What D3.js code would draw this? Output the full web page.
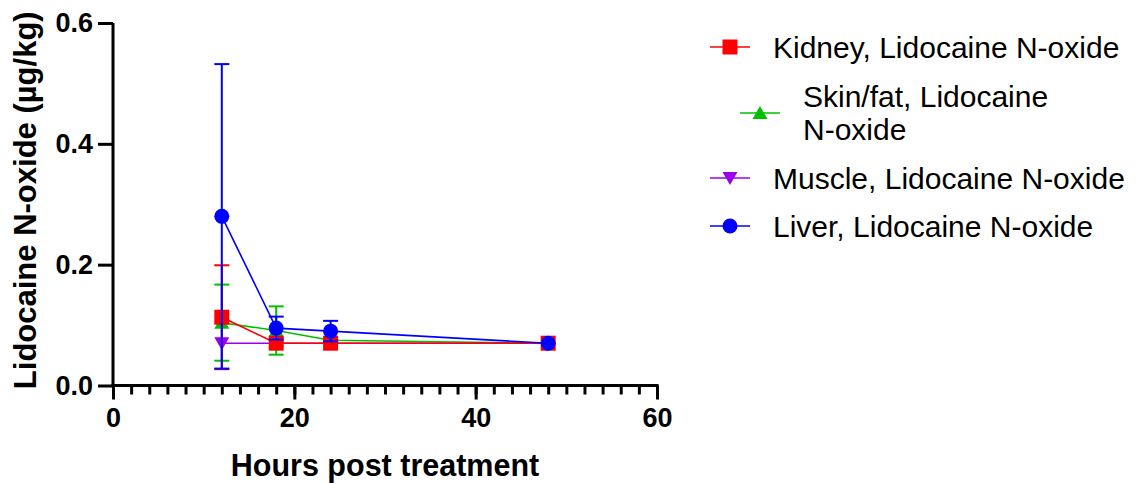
<!DOCTYPE html>
<html>
<head>
<meta charset="utf-8">
<script src="https://cdn.jsdelivr.net/npm/d3@7"></script>
<style>
  body { margin: 0; background: #fff; }
  text { font-family: "Liberation Sans", Arial, sans-serif; }
</style>
</head>
<body>
<div id="graph"></div>
<script>
// Data (mean and SD per time point)
var hours      = [12, 18, 24, 48];
var kidneyMean = [0.113, 0.070, 0.070, 0.070];
var kidneySD   = [0.086, 0, 0, 0];
var skinMean   = [0.104, 0.091, 0.075, 0.070];
var skinSD     = [0.063, 0.040, 0, 0];
var muscleMean = [0.070, 0.070, 0.070, 0.070];
var muscleSD   = [0, 0, 0, 0];
var liverMean  = [0.280, 0.095, 0.090, 0.070];
var liverSD    = [0.252, 0.019, 0.017, 0];

var seriesNames = ['Kidney, Lidocaine N-oxide', 'Skin/fat, Lidocaine N-oxide',
                   'Muscle, Lidocaine N-oxide', 'Liver, Lidocaine N-oxide'];
var xTicks = [0, 20, 40, 60];
var yTicks = [0.0, 0.2, 0.4, 0.6];

var colours = ['#ff0000', '#00c000', '#9c00ea', '#0000ff'];
var symbols = ['square', 'triangleUp', 'triangleDown', 'circle'];

var series = [
    { name: seriesNames[0], mean: kidneyMean, sd: kidneySD, colour: colours[0], symbol: symbols[0] },
    { name: seriesNames[1], mean: skinMean,   sd: skinSD,   colour: colours[1], symbol: symbols[1] },
    { name: seriesNames[2], mean: muscleMean, sd: muscleSD, colour: colours[2], symbol: symbols[2] },
    { name: seriesNames[3], mean: liverMean,  sd: liverSD,  colour: colours[3], symbol: symbols[3] }
];

var width = 1137, height = 483;
var svg = d3.select('#graph').append('svg')
            .attr('width', width)
            .attr('height', height);

var xScale = d3.scaleLinear().domain([0, 60]).range([113, 657]);
var yScale = d3.scaleLinear().domain([0, 0.6]).range([385.5, 23]);

// symbol path generator centred on 0,0
function markerPath (type)
{
    var s = 15;
    if (type == 'square')
        return 'M' + (-s/2) + ',' + (-s/2) + 'h' + s + 'v' + s + 'h' + (-s) + 'Z';
    if (type == 'triangleUp')
        return 'M0,-7 L7.5,6 L-7.5,6 Z';
    if (type == 'triangleDown')
        return 'M0,7 L7.5,-6 L-7.5,-6 Z';
    return d3.symbol().type(d3.symbolCircle).size(Math.PI * 7.5 * 7.5)();
}

// Axes
var xAxisMinor = d3.axisBottom(xScale)
                   .tickValues(d3.range(0, 61, 2))
                   .tickSize(9)
                   .tickFormat('');
var xAxis = d3.axisBottom(xScale)
              .tickValues(xTicks)
              .tickSize(14)
              .tickPadding(8)
              .tickFormat(d3.format('d'));
var yAxis = d3.axisLeft(yScale)
              .tickValues(yTicks)
              .tickSize(15)
              .tickPadding(5)
              .tickFormat(d3.format('.1f'));

var gxm = svg.append('g')
             .attr('transform', 'translate(0,' + yScale(0) + ')')
             .call(xAxisMinor);
gxm.select('.domain').remove();
gxm.selectAll('line').attr('stroke', '#000').attr('stroke-width', 3);

var gx = svg.append('g')
            .attr('transform', 'translate(0,' + yScale(0) + ')')
            .call(xAxis);
gx.select('.domain').attr('d', 'M' + (xScale(0) - 1.5) + ',0H' + (xScale(60) + 1.5))
  .attr('stroke', '#000').attr('stroke-width', 3);
gx.selectAll('line').attr('stroke', '#000').attr('stroke-width', 3);
gx.selectAll('text')
  .attr('font-size', 27).attr('font-weight', 'bold').attr('fill', '#000');

var gy = svg.append('g')
            .attr('transform', 'translate(' + xScale(0) + ',0)')
            .call(yAxis);
gy.select('.domain').attr('d', 'M0,' + yScale(0.6) + 'V' + (yScale(0) + 1.5))
  .attr('stroke', '#000').attr('stroke-width', 3);
gy.selectAll('line').attr('stroke', '#000').attr('stroke-width', 3);
gy.selectAll('text')
  .attr('font-size', 27).attr('font-weight', 'bold').attr('fill', '#000');

// Axis titles
svg.append('text')
   .attr('x', (xScale(0) + xScale(60)) / 2)
   .attr('y', 476)
   .attr('text-anchor', 'middle')
   .attr('font-size', 30.5).attr('font-weight', 'bold')
   .text('Hours post treatment');

svg.append('text')
   .attr('transform', 'translate(36,' + ((yScale(0) + yScale(0.6)) / 2 - 4) + ') rotate(-90)')
   .attr('text-anchor', 'middle')
   .attr('font-size', 31).attr('font-weight', 'bold')
   .text('Lidocaine N-oxide (\u00b5g/kg)');

// Draw order so that kidney sits over skin/fat and liver is on top
var drawOrder = [1, 2, 0, 3];

var line = d3.line()
             .x(function (d) { return xScale(d.x); })
             .y(function (d) { return yScale(d.y); });

drawOrder.forEach(function (k)
{
    var s = series[k];
    var pts = hours.map(function (h, i) { return { x: h, y: s.mean[i], sd: s.sd[i] }; });
    var g = svg.append('g');

    g.append('path')
     .datum(pts)
     .attr('d', line)
     .attr('fill', 'none')
     .attr('stroke', s.colour)
     .attr('stroke-width', 1.6);

    // error bars
    pts.filter(function (d) { return d.sd > 0; }).forEach(function (d)
    {
        var x = xScale(d.x);
        var y1 = yScale(d.y + d.sd), y0 = yScale(d.y - d.sd);
        g.append('line').attr('x1', x).attr('x2', x).attr('y1', y1).attr('y2', y0)
         .attr('stroke', s.colour).attr('stroke-width', 2);
        [y1, y0].forEach(function (yy)
        {
            g.append('line').attr('x1', x - 7.5).attr('x2', x + 7.5).attr('y1', yy).attr('y2', yy)
             .attr('stroke', s.colour).attr('stroke-width', 2);
        });
    });

    g.selectAll('path.marker')
     .data(pts)
     .enter().append('path')
     .attr('class', 'marker')
     .attr('d', markerPath(s.symbol))
     .attr('transform', function (d) { return 'translate(' + xScale(d.x) + ',' + yScale(d.y) + ')'; })
     .attr('fill', s.colour);
});

// Legend
var legendRows = [
    { lines: [seriesNames[0]], cy: 47, sx: 730, tx: 773 },
    { lines: ['Skin/fat, Lidocaine', 'N-oxide'], cy: 113, sx: 760, tx: 803 },
    { lines: [seriesNames[2]], cy: 178, sx: 730, tx: 773 },
    { lines: [seriesNames[3]], cy: 226, sx: 730, tx: 773 }
];

legendRows.forEach(function (r, i)
{
    var s = series[i];
    var lg = svg.append('g');
    lg.append('line')
      .attr('x1', r.sx - 20).attr('x2', r.sx + 20)
      .attr('y1', r.cy).attr('y2', r.cy)
      .attr('stroke', s.colour).attr('stroke-width', 1.6);
    lg.append('path')
      .attr('d', markerPath(s.symbol))
      .attr('transform', 'translate(' + r.sx + ',' + r.cy + ')')
      .attr('fill', s.colour);
    var lh = 33;
    var top = r.cy - (r.lines.length - 1) * lh / 2;
    r.lines.forEach(function (t, j)
    {
        lg.append('text')
          .attr('x', r.tx)
          .attr('y', top + j * lh)
          .attr('dy', '0.36em')
          .attr('font-size', 30)
          .attr('fill', '#000')
          .text(t);
    });
});
</script>
</body>
</html>
